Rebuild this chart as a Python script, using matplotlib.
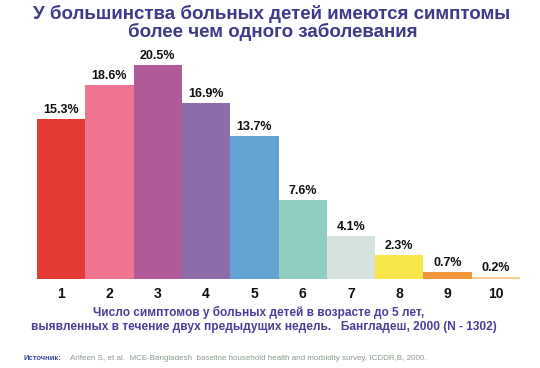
import matplotlib
matplotlib.use("Agg")
import matplotlib.pyplot as plt

categories = ["1", "2", "3", "4", "5", "6", "7", "8", "9", "10"]
values = [15.3, 18.6, 20.5, 16.9, 13.7, 7.6, 4.1, 2.3, 0.7, 0.2]
labels = ["15.3%", "18.6%", "20.5%", "16.9%", "13.7%", "7.6%", "4.1%", "2.3%", "0.7%", "0.2%"]
colors = ["#E43A36", "#EE7490", "#B05A98", "#8C6DA9", "#62A3D3",
          "#8ECDBF", "#D5E2DE", "#F6E64A", "#F0953C", "#F6CB8F"]

title_lines = ["У большинства больных детей имеются симптомы", "более чем одного заболевания"]
xlabel_lines = ["Число симптомов у больных детей в возрасте до 5 лет,",
                "выявленных в течение двух предыдущих недель.   Бангладеш, 2000 (N - 1302)"]
source_head = "Источник:"
source_text = "Arifeen S, et al.  MCE-Bangladesh  baseline household health and morbidity survey, ICDDR,B, 2000."

plt.rcParams['font.family'] = ['Liberation Sans', 'DejaVu Sans']
fig = plt.figure(figsize=(5.4, 3.68), dpi=100)
ax = fig.add_axes([37/540, 1-279/368, 483/540, 219/368])
x = list(range(1, len(values)+1))
ax.bar(x, values, width=1.0, color=colors, edgecolor='none')
ax.set_xlim(0.5, 10.5)
ax.set_ylim(0, 21)
for xi, v, lb in zip(x, values, labels):
    ax.text(xi, v + 0.3, lb, ha='center', va='bottom', fontsize=9, fontweight='bold', color='#111111')
ax.set_xticks(x)
ax.set_xticklabels(categories, fontsize=10, fontweight='bold', color='#111111')
ax.tick_params(axis='x', length=0, pad=6)
ax.set_yticks([])
for s in ax.spines.values():
    s.set_visible(False)

tc = '#3F3A8C'
fig.text(272/540, 1-14/368, title_lines[0], ha='center', va='center', fontsize=13.5, fontweight='bold', color=tc)
fig.text(273/540, 1-32/368, title_lines[1], ha='center', va='center', fontsize=13.5, fontweight='bold', color=tc)
lc = '#4B3F9B'
fig.text(259/540, 1-312/368, xlabel_lines[0], ha='center', va='center', fontsize=8.6, fontweight='bold', color=lc)
fig.text(264/540, 1-327/368, xlabel_lines[1], ha='center', va='center', fontsize=8.6, fontweight='bold', color=lc)
fig.text(23/540, 1-359/368, source_head, ha='left', va='center', fontsize=5.5, fontweight='bold', color='#3F4A9B')
fig.text(70/540, 1-359/368, source_text, ha='left', va='center', fontsize=5.8, color='#8A9A8A')

fig.savefig("out.png", dpi=100)
